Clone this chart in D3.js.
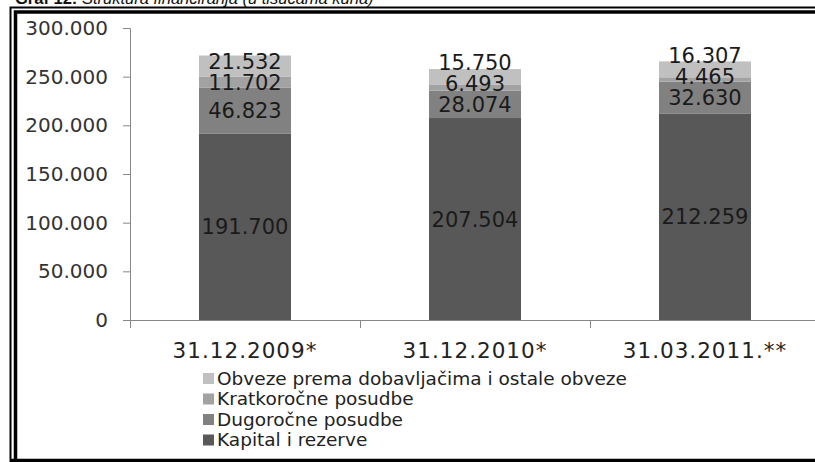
<!DOCTYPE html>
<html>
<head>
<meta charset="utf-8">
<script src="https://cdn.jsdelivr.net/npm/d3@7"></script>
<style>
  body { margin: 0; background: #fff; }
  svg { display: block; }
</style>
</head>
<body>
<div id="chart-area"></div>
<script>
// Data (u tisućama kuna)
const categories = ["31.12.2009*", "31.12.2010*", "31.03.2011.**"];
const seriesNames = ["Kapital i rezerve", "Dugoročne posudbe", "Kratkoročne posudbe", "Obveze prema dobavljačima i ostale obveze"];
const kapital = [191700, 207504, 212259];
const dugorocne = [46823, 28074, 32630];
const kratkorocne = [11702, 6493, 4465];
const obveze = [21532, 15750, 16307];
const yTicks = [0, 50000, 100000, 150000, 200000, 250000, 300000];

const colors = ["#585858", "#818181", "#a2a2a2", "#c0c0c0"];

const width = 815, height = 462;
const font = "DejaVu Sans, Verdana, sans-serif";

// table for d3.stack
const rows = categories.map((c, i) => ({
  cat: c,
  s0: kapital[i], s1: dugorocne[i], s2: kratkorocne[i], s3: obveze[i]
}));
const keys = ["s0", "s1", "s2", "s3"];
const stacked = d3.stack().keys(keys)(rows);

const svg = d3.select("#chart-area").append("svg")
  .attr("width", width)
  .attr("height", height);

svg.append("rect").attr("width", width).attr("height", height).attr("fill", "#fff");

// Title (cut off at the top of the picture)
const title = svg.append("text")
  .attr("x", 15).attr("y", 4)
  .attr("font-family", "Liberation Sans, Arial, sans-serif")
  .attr("font-size", 16.5)
  .attr("fill", "#111");
title.append("tspan").attr("font-weight", "bold").text("Graf 12: ");
title.append("tspan").attr("font-style", "italic").text("Struktura financiranja (u tisućama kuna)");

// Frame: outer thin line + inner thick line
svg.append("path")
  .attr("d", "M10.5,462 V7.5 H815")
  .attr("fill", "none").attr("stroke", "#000").attr("stroke-width", 2);
svg.append("path")
  .attr("d", "M15.5,462 V12 H815")
  .attr("fill", "none").attr("stroke", "#000").attr("stroke-width", 3.5);
svg.append("line")
  .attr("x1", 10).attr("x2", 815).attr("y1", 460.5).attr("y2", 460.5)
  .attr("stroke", "#000").attr("stroke-width", 3.5);

// Scales
const x = d3.scaleBand().domain(categories).range([130, 820])
  .paddingInner(0.6).paddingOuter(0.3);
const y = d3.scaleLinear().domain([0, 300000]).range([320, 28]);

const fmt = v => d3.format(",")(v).replace(/,/g, ".");

// Bars
svg.append("g").selectAll("g")
  .data(stacked)
  .enter().append("g")
  .attr("fill", (d, i) => colors[i])
  .selectAll("rect")
  .data(d => d)
  .enter().append("rect")
  .attr("x", d => x(d.data.cat))
  .attr("y", d => y(d[1]))
  .attr("width", x.bandwidth())
  .attr("height", d => y(d[0]) - y(d[1]));

// Axes
const axisColor = "#888";
const yAxis = d3.axisLeft(y).tickValues(yTicks).tickSize(7).tickPadding(15)
  .tickFormat(v => v === 0 ? "0" : fmt(v));
const gy = svg.append("g").attr("transform", "translate(130,0)").call(yAxis);
gy.select(".domain").attr("stroke", axisColor).attr("d", "M-7,28.5H0.5V328");
gy.selectAll(".tick line").attr("stroke", axisColor);
gy.selectAll(".tick text")
  .attr("font-family", font).attr("font-size", 20).attr("fill", "#333");

const xAxis = d3.axisBottom(x).tickSize(0).tickPadding(23);
const gx = svg.append("g").attr("transform", "translate(0,320)").call(xAxis);
gx.select(".domain").attr("stroke", axisColor).attr("d", "M130,0.5H815");
gx.selectAll(".tick text")
  .attr("font-family", font).attr("font-size", 21.5)
  .attr("letter-spacing", 1).attr("fill", "#222");

// category boundary ticks
svg.append("g").selectAll("line")
  .data(categories.slice(1))
  .enter().append("line")
  .attr("x1", c => Math.round(x(c) - (x.step() - x.bandwidth()) / 2) + 0.5)
  .attr("x2", c => Math.round(x(c) - (x.step() - x.bandwidth()) / 2) + 0.5)
  .attr("y1", 320).attr("y2", 328)
  .attr("stroke", axisColor);

// Data labels, centred in segments, pushed up when they collide
const gap = 21;
categories.forEach((c, ci) => {
  let prev = Infinity;
  stacked.forEach((s) => {
    const seg = s[ci];
    let cy = (y(seg[0]) + y(seg[1])) / 2;
    if (prev - cy < gap) cy = prev - gap;
    prev = cy;
    svg.append("text")
      .attr("x", x(c) + x.bandwidth() / 2)
      .attr("y", cy)
      .attr("dy", "0.36em")
      .attr("text-anchor", "middle")
      .attr("font-family", font)
      .attr("font-size", 21)
      .attr("fill", "#1a1a1a")
      .text(fmt(seg[1] - seg[0]));
  });
});

// Legend (reverse order, top entry is the top series)
const legend = svg.append("g").attr("transform", "translate(203,378)");
const legendItems = seriesNames.map((n, i) => ({ name: n, color: colors[i] })).reverse();
const li = legend.selectAll("g")
  .data(legendItems)
  .enter().append("g")
  .attr("transform", (d, i) => "translate(0," + (i * 20.5) + ")");
li.append("rect")
  .attr("x", 0).attr("y", -5).attr("width", 11).attr("height", 11)
  .attr("fill", d => d.color);
li.append("text")
  .attr("x", 14).attr("y", 0).attr("dy", "0.36em")
  .attr("font-family", font).attr("font-size", 18.5)
  .attr("fill", "#222")
  .text(d => d.name);
</script>
</body>
</html>
